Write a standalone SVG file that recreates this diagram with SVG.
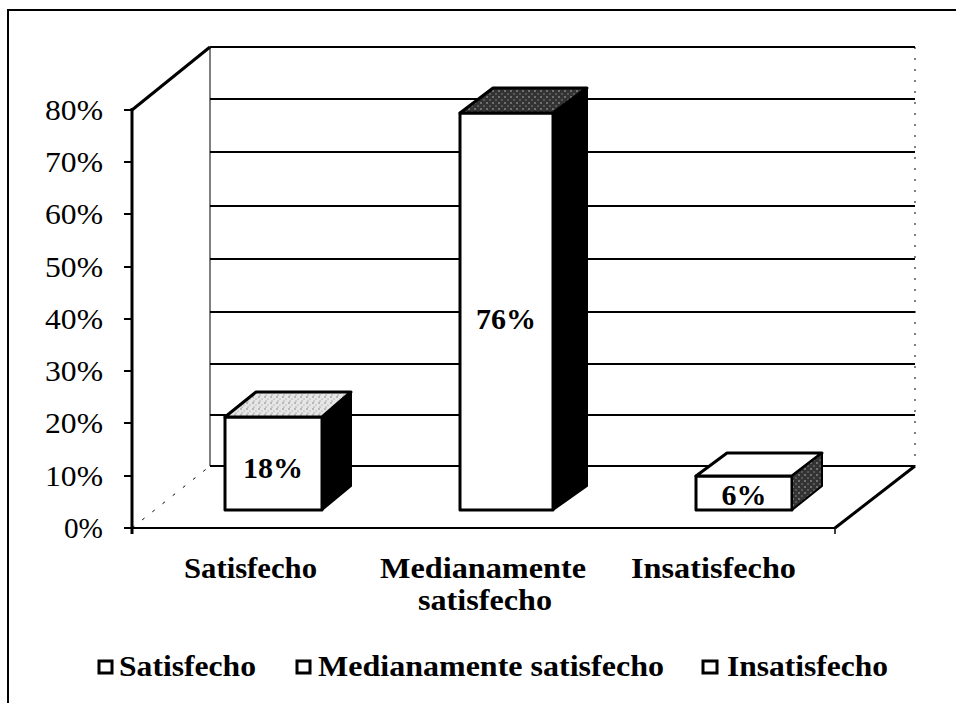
<svg xmlns="http://www.w3.org/2000/svg" width="956" height="703" viewBox="0 0 956 703">
<defs>
<pattern id="speckLight" width="6" height="6" patternUnits="userSpaceOnUse">
<rect width="6" height="6" fill="#e6e6e6"/>
<circle cx="1" cy="1" r="0.7" fill="#666"/>
<circle cx="4" cy="3" r="0.6" fill="#888"/>
<circle cx="2" cy="5" r="0.5" fill="#555"/>
</pattern>
<pattern id="speckDark" width="6" height="6" patternUnits="userSpaceOnUse">
<rect width="6" height="6" fill="#333"/>
<circle cx="1" cy="1" r="0.8" fill="#bbb"/>
<circle cx="4" cy="4" r="0.7" fill="#999"/>
</pattern>
<style>
.ax{font-family:"Liberation Serif","Times New Roman",serif;font-size:29px;fill:#000}
.cat{font-family:"Liberation Serif","Times New Roman",serif;font-size:30px;font-weight:bold;fill:#000}
.val{font-family:"Liberation Serif","Times New Roman",serif;font-size:30px;font-weight:bold;fill:#000}
.grid{stroke:#000;stroke-width:2.2;fill:none}
.thin{stroke:#000;stroke-width:1;fill:none}
.edge{stroke:#000;stroke-width:3;fill:none;stroke-linejoin:round}
.front{fill:#fff;stroke:#000;stroke-width:3;stroke-linejoin:round}
.side{fill:#000;stroke:#000;stroke-width:2;stroke-linejoin:round}
.lg{fill:#fff;stroke:#000;stroke-width:3}
</style>
</defs>
<rect width="956" height="703" fill="#fff"/>
<path d="M8 703 V10 H956" stroke="#000" stroke-width="2" fill="none"/>

<g id="walls">
<line class="grid" x1="210" y1="47" x2="915" y2="47"/>
<line class="grid" x1="210" y1="99" x2="915" y2="99"/>
<line class="grid" x1="210" y1="152" x2="915" y2="152"/>
<line class="grid" x1="210" y1="206" x2="915" y2="206"/>
<line class="grid" x1="210" y1="259" x2="915" y2="259"/>
<line class="grid" x1="210" y1="312" x2="915" y2="312"/>
<line class="grid" x1="210" y1="364" x2="915" y2="364"/>
<line class="grid" x1="210" y1="415" x2="915" y2="415"/>
<line class="grid" x1="210" y1="466" x2="915" y2="466"/>
<line class="thin" x1="210" y1="47" x2="210" y2="466"/>
<line x1="915" y1="47" x2="915" y2="466" stroke="#000" stroke-width="1" stroke-dasharray="2 9"/>
<line class="edge" x1="132" y1="110" x2="210" y2="47"/>
<line x1="132" y1="528" x2="210" y2="466" stroke="#000" stroke-width="1" stroke-dasharray="3 10"/>
<line class="grid" x1="132" y1="528" x2="835" y2="528"/>
<line class="edge" x1="835" y1="528" x2="915" y2="466"/>
<line x1="835" y1="528" x2="835" y2="534" stroke="#000" stroke-width="1.5"/>
<line class="edge" x1="132" y1="108" x2="132" y2="534"/>
<g stroke="#000" stroke-width="2">
<line x1="124" y1="110" x2="132" y2="110"/>
<line x1="124" y1="162" x2="132" y2="162"/>
<line x1="124" y1="214" x2="132" y2="214"/>
<line x1="124" y1="267" x2="132" y2="267"/>
<line x1="124" y1="319" x2="132" y2="319"/>
<line x1="124" y1="371" x2="132" y2="371"/>
<line x1="124" y1="423" x2="132" y2="423"/>
<line x1="124" y1="476" x2="132" y2="476"/>
<line x1="124" y1="528" x2="132" y2="528"/>
</g>
</g>

<g id="axis-labels">
<text class="ax" x="45" y="120" textLength="58" lengthAdjust="spacingAndGlyphs">80%</text>
<text class="ax" x="45" y="172" textLength="58" lengthAdjust="spacingAndGlyphs">70%</text>
<text class="ax" x="45" y="224" textLength="58" lengthAdjust="spacingAndGlyphs">60%</text>
<text class="ax" x="45" y="277" textLength="58" lengthAdjust="spacingAndGlyphs">50%</text>
<text class="ax" x="45" y="329" textLength="58" lengthAdjust="spacingAndGlyphs">40%</text>
<text class="ax" x="45" y="381" textLength="58" lengthAdjust="spacingAndGlyphs">30%</text>
<text class="ax" x="45" y="433" textLength="58" lengthAdjust="spacingAndGlyphs">20%</text>
<text class="ax" x="45" y="486" textLength="58" lengthAdjust="spacingAndGlyphs">10%</text>
<text class="ax" x="64" y="538" textLength="39" lengthAdjust="spacingAndGlyphs">0%</text>
</g>

<g id="bar-satisfecho">
<polygon class="front" points="225,417 322,417 322,510 225,510"/>
<polygon points="225,417 256,392 351,392 322,417" fill="url(#speckLight)" stroke="#000" stroke-width="3" stroke-linejoin="round"/>
<polygon class="side" points="322,417 351,392 351,486 322,510"/>
<text class="val" x="273" y="478" text-anchor="middle">18%</text>
</g>

<g id="bar-medianamente">
<polygon class="front" points="460,113 553,113 553,510 460,510"/>
<polygon points="460,113 493,88 587,88 553,113" fill="url(#speckDark)" stroke="#000" stroke-width="3" stroke-linejoin="round"/>
<polygon class="side" points="553,113 587,88 587,486 553,510"/>
<text class="val" x="506" y="329" text-anchor="middle">76%</text>
</g>

<g id="bar-insatisfecho">
<polygon class="front" points="696,476 792,476 792,510 696,510"/>
<polygon points="696,476 727,453 822,453 792,476" fill="#fff" stroke="#000" stroke-width="3" stroke-linejoin="round"/>
<polygon points="792,476 822,453 822,486 792,510" fill="url(#speckDark)" stroke="#000" stroke-width="2" stroke-linejoin="round"/>
<text class="val" x="744" y="505" text-anchor="middle">6%</text>
</g>

<g id="category-labels">
<text class="cat" x="184" y="578" textLength="133" lengthAdjust="spacingAndGlyphs">Satisfecho</text>
<text class="cat" x="380" y="578" textLength="206" lengthAdjust="spacingAndGlyphs">Medianamente</text>
<text class="cat" x="418" y="610" textLength="134" lengthAdjust="spacingAndGlyphs">satisfecho</text>
<text class="cat" x="631" y="578" textLength="165" lengthAdjust="spacingAndGlyphs">Insatisfecho</text>
</g>

<g id="legend">
<rect class="lg" x="99" y="661" width="13" height="12"/>
<text class="cat" x="119" y="676" textLength="137" lengthAdjust="spacingAndGlyphs">Satisfecho</text>
<rect class="lg" x="297" y="661" width="13" height="12"/>
<text class="cat" x="318" y="676" textLength="346" lengthAdjust="spacingAndGlyphs">Medianamente satisfecho</text>
<rect class="lg" x="703" y="661" width="14" height="12"/>
<text class="cat" x="727" y="676" textLength="161" lengthAdjust="spacingAndGlyphs">Insatisfecho</text>
</g>
</svg>
